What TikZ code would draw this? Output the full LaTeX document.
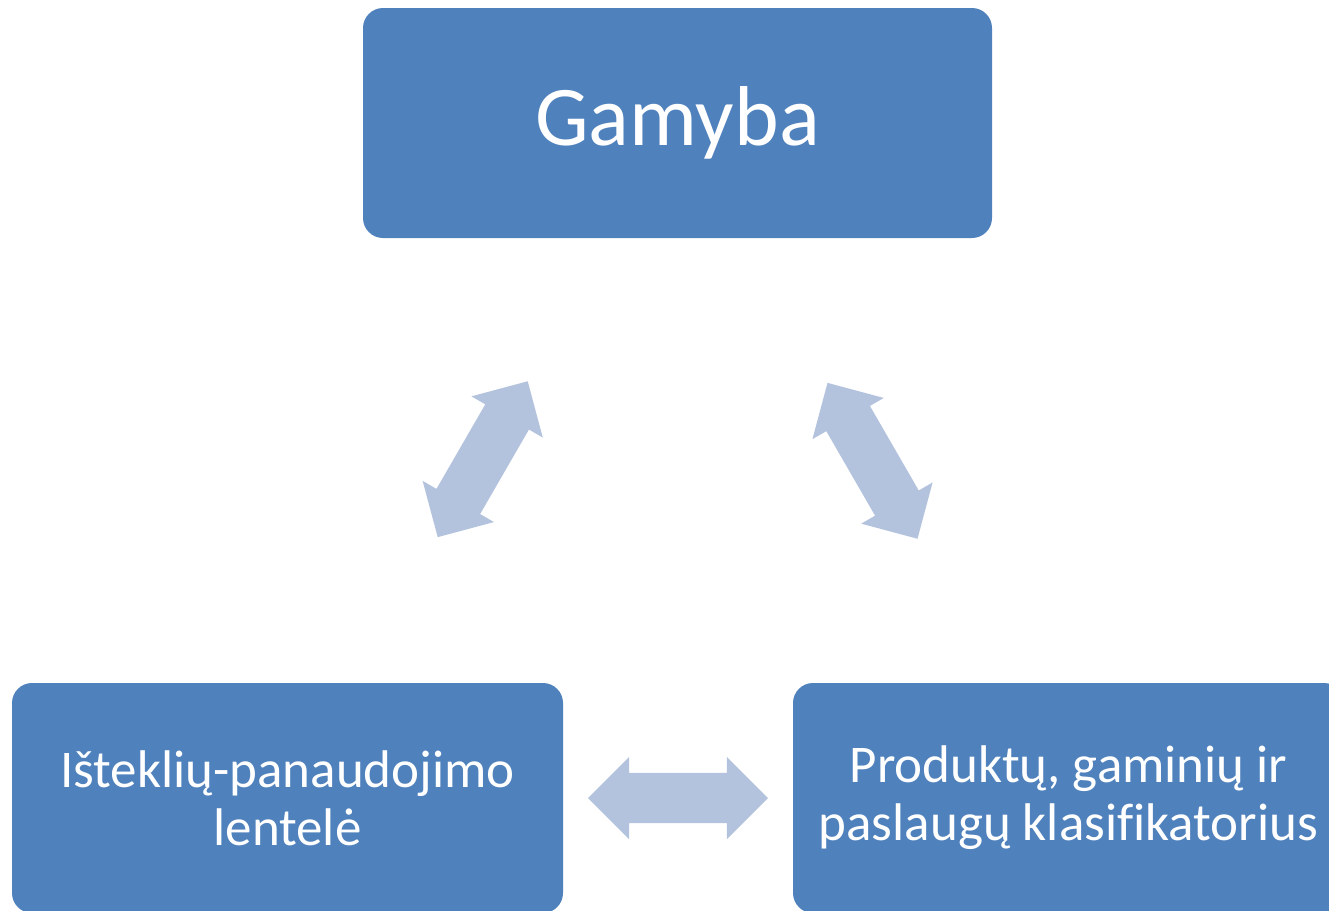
\documentclass[tikz,border=0pt]{standalone}
\usepackage{fontspec}
\setmainfont[Ligatures=NoCommon]{Carlito}
\usetikzlibrary{shapes.arrows}
\definecolor{boxblue}{HTML}{4F81BD}
\definecolor{arrowblue}{HTML}{B3C3DE}

\begin{document}
\begin{tikzpicture}
[x=1pt, y=-1pt,
 every node/.style={inner sep=0pt},
 block/.style={rectangle, rounded corners=20pt, fill=boxblue, text=white, align=center, font=\fontsize{53}{58}\selectfont},
 twoway/.style={double arrow, fill=arrowblue, inner xsep=0pt, inner ysep=25pt, minimum height=180pt, double arrow head extend=16pt}]
\useasboundingbox (0,0) rectangle (1329,910);
\begin{scope}
\clip (0,0) rectangle (1329,910);
\node (gamyba) [block, minimum width=629pt, minimum height=230pt, font=\fontsize{85}{94}\selectfont] at (677.5pt, -123pt) {Gamyba};
\node (lentele) [block, minimum width=551pt, minimum height=230pt] at (287.5pt, -798pt) {Išteklių-panaudojimo\\lentelė};
\node (klasif) [block, minimum width=551pt, minimum height=230pt] at (1068.5pt, -798pt) {Produktų, gaminių ir\\paslaugų klasifikatorius};
\end{scope}
\node (left arrow) [twoway, rotate=60] at (482.7pt, -459.2pt) {};
\node (right arrow) [twoway, rotate=-60] at (872.5pt, -460.8pt) {};
\node (bottom arrow) [twoway] at (678pt, -798pt) {};
\end{tikzpicture}
\end{document}
